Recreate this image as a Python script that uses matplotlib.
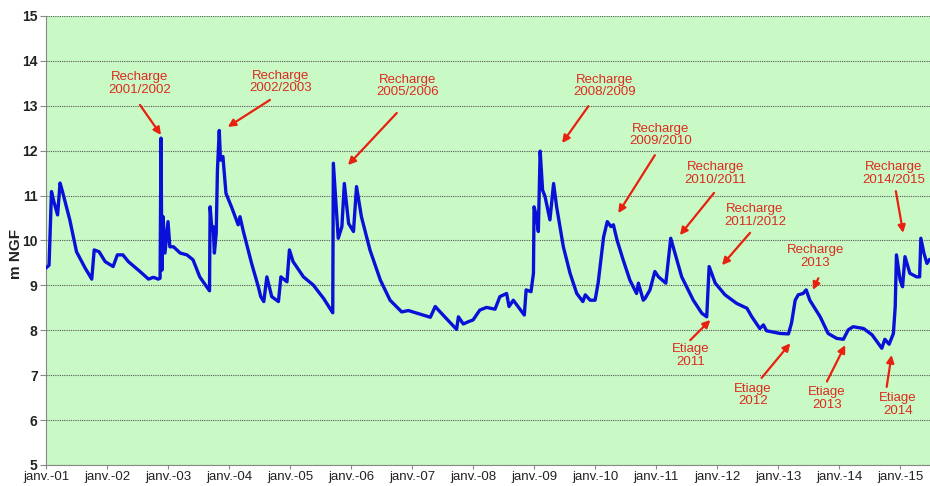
import matplotlib
matplotlib.use("Agg")
import matplotlib.pyplot as plt
import numpy as np

plt.rcParams['font.family'] = ['Liberation Sans', 'DejaVu Sans']

# piezometric level (m NGF), dates as decimal years
years = [2001.01, 2001.05, 2001.09, 2001.13, 2001.19, 2001.23, 2001.27, 2001.39, 2001.50, 2001.64,
         2001.75, 2001.79, 2001.87, 2001.97, 2002.10, 2002.17, 2002.26, 2002.35, 2002.54, 2002.68,
         2002.76, 2002.84, 2002.87, 2002.885, 2002.90, 2002.92, 2002.95, 2003.00, 2003.03, 2003.09,
         2003.20, 2003.31, 2003.41, 2003.52, 2003.68, 2003.69, 2003.72, 2003.74, 2003.76, 2003.79,
         2003.81, 2003.84, 2003.86, 2003.90, 2003.95, 2004.04, 2004.15, 2004.18, 2004.23, 2004.37,
         2004.48, 2004.52, 2004.57, 2004.62, 2004.70, 2004.81, 2004.85, 2004.95, 2004.99, 2005.05,
         2005.22, 2005.38, 2005.55, 2005.70, 2005.71, 2005.77, 2005.79, 2005.85, 2005.89, 2005.96,
         2006.04, 2006.09, 2006.17, 2006.31, 2006.48, 2006.64, 2006.83, 2006.94, 2007.13, 2007.30,
         2007.38, 2007.46, 2007.73, 2007.76, 2007.84, 2007.92, 2008.00, 2008.11, 2008.22, 2008.36,
         2008.44, 2008.55, 2008.59, 2008.66, 2008.84, 2008.87, 2008.95, 2008.99, 2009.00, 2009.04,
         2009.07, 2009.10, 2009.14, 2009.18, 2009.26, 2009.32, 2009.37, 2009.48, 2009.59, 2009.70,
         2009.80, 2009.84, 2009.92, 2010.00, 2010.05, 2010.14, 2010.20, 2010.26, 2010.30, 2010.36,
         2010.46, 2010.57, 2010.68, 2010.71, 2010.79, 2010.82, 2010.90, 2010.98, 2011.04, 2011.16,
         2011.24, 2011.28, 2011.42, 2011.61, 2011.75, 2011.83, 2011.87, 2011.97, 2012.13, 2012.32,
         2012.49, 2012.57, 2012.70, 2012.76, 2012.81, 2013.03, 2013.17, 2013.22, 2013.28, 2013.33,
         2013.41, 2013.46, 2013.52, 2013.69, 2013.82, 2013.96, 2014.07, 2014.15, 2014.23, 2014.40,
         2014.54, 2014.70, 2014.75, 2014.82, 2014.89, 2014.92, 2014.94, 2015.00, 2015.04, 2015.08,
         2015.16, 2015.27, 2015.32, 2015.34, 2015.39, 2015.44, 2015.48]
levels = [9.40, 9.45, 11.09, 10.86, 10.57, 11.28, 11.09, 10.46, 9.75, 9.39,
          9.14, 9.79, 9.75, 9.53, 9.42, 9.68, 9.68, 9.53, 9.31, 9.14,
          9.18, 9.14, 9.16, 12.28, 9.34, 10.53, 9.72, 10.42, 9.86, 9.86,
          9.72, 9.68, 9.57, 9.19, 8.88, 10.75, 10.23, 10.31, 9.72, 10.16,
          11.57, 12.45, 11.79, 11.87, 11.05, 10.75, 10.35, 10.53, 10.23, 9.49,
          8.97, 8.75, 8.64, 9.19, 8.75, 8.64, 9.19, 9.08, 9.79, 9.53,
          9.19, 9.01, 8.71, 8.39, 11.72, 10.46, 10.05, 10.31, 11.27, 10.38,
          10.20, 11.20, 10.53, 9.79, 9.12, 8.67, 8.41, 8.44, 8.36, 8.29,
          8.53, 8.41, 8.02, 8.30, 8.14, 8.19, 8.23, 8.45, 8.51, 8.47,
          8.75, 8.82, 8.53, 8.67, 8.34, 8.90, 8.86, 9.27, 10.75, 10.53,
          10.20, 11.99, 11.12, 10.98, 10.46, 11.27, 10.75, 9.86, 9.27, 8.82,
          8.64, 8.79, 8.67, 8.67, 9.05, 10.08, 10.42, 10.31, 10.35, 10.01,
          9.57, 9.12, 8.82, 9.05, 8.67, 8.71, 8.90, 9.31, 9.19, 9.05,
          10.05, 9.86, 9.19, 8.67, 8.38, 8.30, 9.42, 9.05, 8.79, 8.60,
          8.49, 8.30, 8.04, 8.12, 7.99, 7.93, 7.92, 8.16, 8.67, 8.79,
          8.82, 8.90, 8.67, 8.30, 7.93, 7.82, 7.80, 8.01, 8.08, 8.04,
          7.90, 7.60, 7.80, 7.69, 7.93, 8.53, 9.68, 9.12, 8.97, 9.64,
          9.27, 9.19, 9.19, 10.05, 9.72, 9.49, 9.57]

tick_years = list(range(2001, 2016))
tick_labels = ["janv.-%02d" % (y % 100) for y in tick_years]

# annotations: label, text position, arrow tail, arrow head
notes = [
    ("Recharge\n2001/2002", (2002.54, 13.49), (2002.54, 13.02), (2002.885, 12.35)),
    ("Recharge\n2002/2003", (2004.84, 13.53), (2004.67, 13.13), (2003.98, 12.53)),
    ("Recharge\n2005/2006", (2006.92, 13.44), (2006.75, 12.84), (2005.95, 11.68)),
    ("Recharge\n2008/2009", (2010.15, 13.44), (2009.89, 12.99), (2009.46, 12.17)),
    ("Recharge\n2009/2010", (2011.07, 12.35), (2010.98, 11.90), (2010.38, 10.61)),
    ("Recharge\n2010/2011", (2011.97, 11.50), (2011.95, 11.06), (2011.39, 10.12)),
    ("Recharge\n2011/2012", (2012.62, 10.55), (2012.54, 10.17), (2012.08, 9.45)),
    ("Recharge\n2013", (2013.61, 9.65), (2013.66, 9.16), (2013.57, 8.90)),
    ("Recharge\n2014/2015", (2014.89, 11.50), (2014.93, 11.10), (2015.05, 10.17)),
    ("Etiage\n2011", (2011.56, 7.43), (2011.56, 7.78), (2011.89, 8.23)),
    ("Etiage\n2012", (2012.59, 6.56), (2012.73, 6.94), (2013.20, 7.71)),
    ("Etiage\n2013", (2013.80, 6.49), (2013.80, 6.86), (2014.10, 7.67)),
    ("Etiage\n2014", (2014.96, 6.34), (2014.78, 6.74), (2014.86, 7.45)),
]

fig = plt.figure(figsize=(9.3, 4.86), dpi=100)
ax = fig.add_axes([46 / 930, 21 / 486, 1 - 46 / 930, 449 / 486])
ax.set_facecolor('#c9fac6')

ax.plot(years, levels, color='#0a10d8', lw=2.4, zorder=3, solid_joinstyle='round')

ax.set_xlim(2001.0, 2015.49)
ax.set_ylim(5, 15)
ax.set_yticks(range(5, 16))
ax.set_xticks(tick_years)
ax.set_xticklabels(tick_labels)
ax.yaxis.grid(True, color='#555555', ls=(0, (1, 1)), lw=0.8)
ax.set_axisbelow(True)

for s in ['top', 'right']:
    ax.spines[s].set_visible(False)
for s in ['left', 'bottom']:
    ax.spines[s].set_color('#888888')
ax.tick_params(axis='x', colors='#888888', labelcolor='#222222', labelsize=9.5, length=3, pad=1)
ax.tick_params(axis='y', colors='#888888', labelcolor='#222222', labelsize=10, length=4, pad=2)
for lab in ax.get_yticklabels():
    lab.set_fontweight('bold')

ax.set_ylabel("m NGF", fontsize=11, fontweight='bold', color='#222222')
ax.yaxis.set_label_coords(-0.026, 0.47)

for text, tpos, tail, head in notes:
    ax.text(tpos[0], tpos[1], text, color='#dd2a1e', fontsize=9.5, ha='center', va='center',
            linespacing=1.1, zorder=4)
    ax.annotate("", xy=head, xytext=tail,
                arrowprops=dict(arrowstyle='-|>', color='#e8200f', lw=1.6,
                                mutation_scale=11, shrinkA=0, shrinkB=0), zorder=4)

fig.savefig("out.png", dpi=100)
